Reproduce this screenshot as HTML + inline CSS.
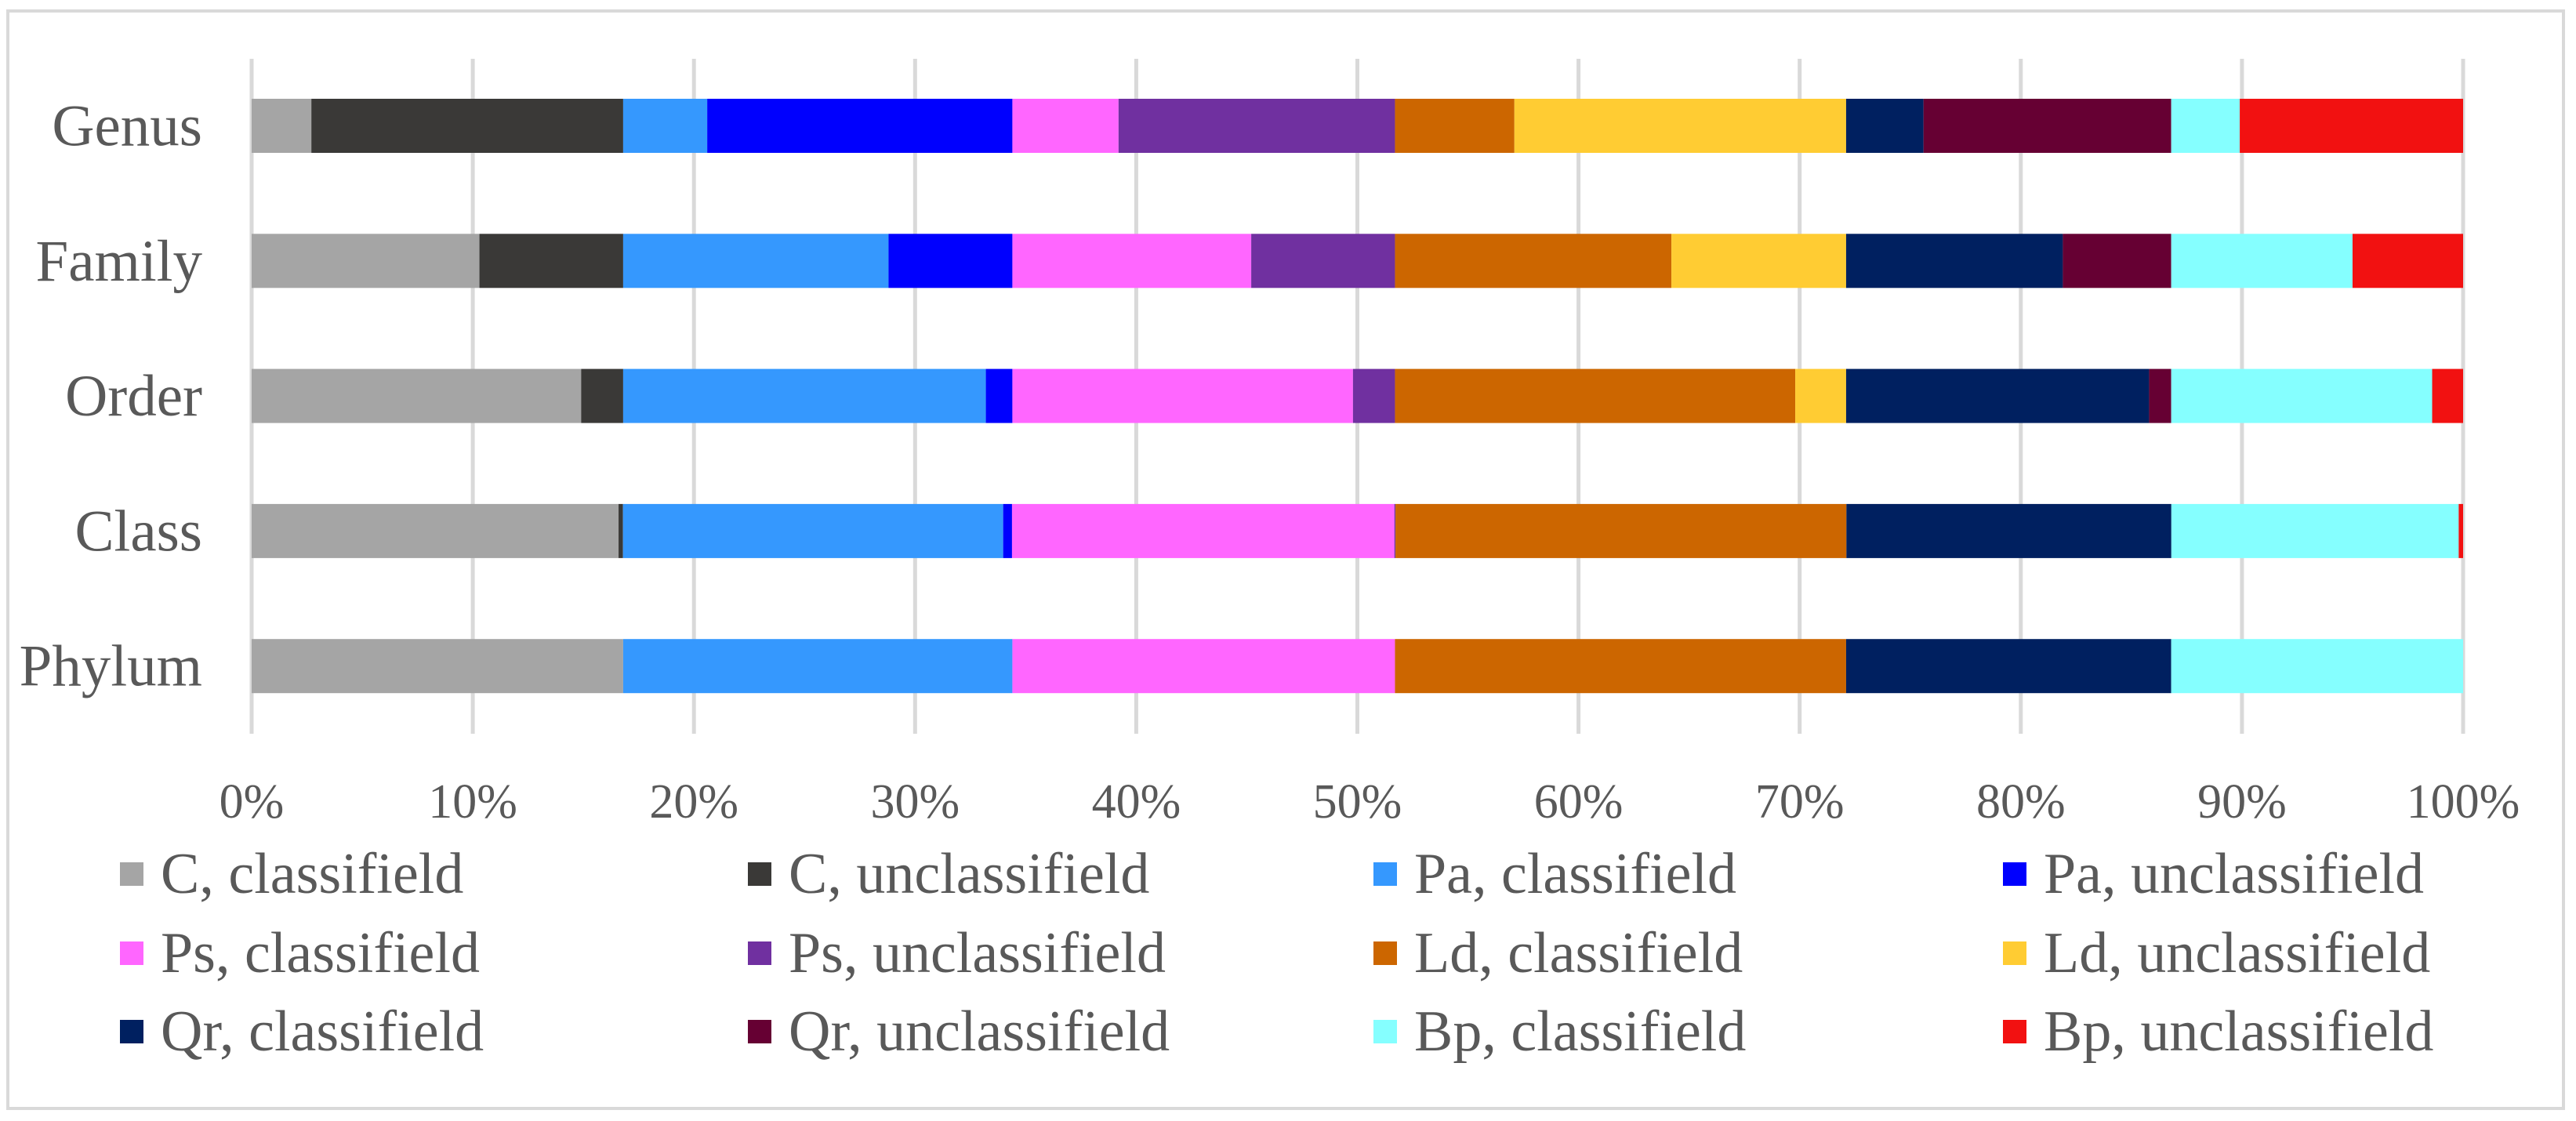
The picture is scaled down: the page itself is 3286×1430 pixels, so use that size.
<!DOCTYPE html>
<html><head><meta charset="utf-8">
<style>
html,body{margin:0;padding:0;background:#fff;}
svg{display:block;}
text{font-family:"Liberation Serif",serif;fill:#595959;}
</style></head>
<body>
<svg id="chart" width="3286" height="1430" viewBox="0 0 3286 1430" xmlns="http://www.w3.org/2000/svg">
<rect x="10" y="14" width="3260" height="1400" fill="#fff" stroke="#d9d9d9" stroke-width="4"/>
<g id="grid"></g>
<g id="bars"></g>
<g id="ylabels"></g>
<g id="xlabels"></g>
<g id="legend"></g>
</svg>
<script>
const categories = ["Genus","Family","Order","Class","Phylum"];
const seriesNames = ["C, classifield","C, unclassifield","Pa, classifield","Pa, unclassifield","Ps, classifield","Ps, unclassifield","Ld, classifield","Ld, unclassifield","Qr, classifield","Qr, unclassifield","Bp, classifield","Bp, unclassifield"];
const seriesColors = ["#a5a5a5","#3a3937","#3598fe","#0000fe","#ff66ff","#7030a0","#cc6600","#ffcc33","#002060","#660033","#85ffff","#f21111"];
const genusValues = [2.7,14.1,3.8,13.8,4.8,12.5,5.4,15.0,3.5,11.2,3.1,10.1];
const familyValues = [10.3,6.5,12.0,5.6,10.8,6.5,12.5,7.9,9.8,4.9,8.2,5.0];
const orderValues = [14.9,1.9,16.4,1.2,15.4,1.9,18.1,2.3,13.7,1.0,11.8,1.4];
const classValues = [16.6,0.2,17.2,0.4,17.3,0.05,20.4,0,14.7,0,13.0,0.2];
const phylumValues = [16.8,0,17.6,0,17.3,0,20.4,0,14.7,0,13.2,0];
const tickLabels = ["0%","10%","20%","30%","40%","50%","60%","70%","80%","90%","100%"];

const allValues = [genusValues,familyValues,orderValues,classValues,phylumValues];
const NS="http://www.w3.org/2000/svg";
const X0=321, X1=3142, YT=75, YB=936;
const barTop0=126, pitch=172.3, barH=69;
function xScale(p){return X0+(X1-X0)*p/100;}
function yBand(i){return barTop0+i*pitch;}
function mk(tag,attrs,parent){const e=document.createElementNS(NS,tag);for(const k in attrs)e.setAttribute(k,attrs[k]);parent.appendChild(e);return e;}

const grid=document.getElementById('grid');
tickLabels.forEach((t,i)=>{
  const x=xScale(i*10);
  const l=mk('line',{x1:x,x2:x,y1:YT,y2:YB,stroke:'#d9d9d9','stroke-width':5},grid);
  
  
  const tx=mk('text',{x:x,y:1043,'font-size':62,'text-anchor':'middle'},document.getElementById('xlabels'));
  tx.textContent=t;
  
  
});

const bars=document.getElementById('bars');
categories.forEach((c,i)=>{
  const vals=allValues[i];
  const total=vals.reduce((a,b)=>a+b,0);
  let cum=0;
  vals.forEach((v,j)=>{
    const xa=xScale(cum/total*100); cum+=v; const xb=xScale(cum/total*100);
    if(xb-xa<=0)return;
    const r=mk('rect',{x:xa,y:yBand(i),width:xb-xa,height:barH,fill:seriesColors[j]},bars);
    
    
  });
  const t=mk('text',{x:258,y:yBand(i)+barH/2+25,'font-size':75,'text-anchor':'end'},document.getElementById('ylabels'));
  t.textContent=c;
  
  
});

const legend=document.getElementById('legend');
const colX=[153,954,1752,2555], rowY=[1115,1216,1316];
seriesNames.forEach((n,i)=>{
  const cx=colX[i%4], cy=rowY[Math.floor(i/4)];
  const g=mk('g',{},legend);
  
  
  mk('rect',{x:cx,y:cy-15,width:30,height:30,fill:seriesColors[i]},g);
  const t=mk('text',{x:cx+52,y:cy+24,'font-size':74},g);
  t.textContent=n;
});
</script>
</body></html>
